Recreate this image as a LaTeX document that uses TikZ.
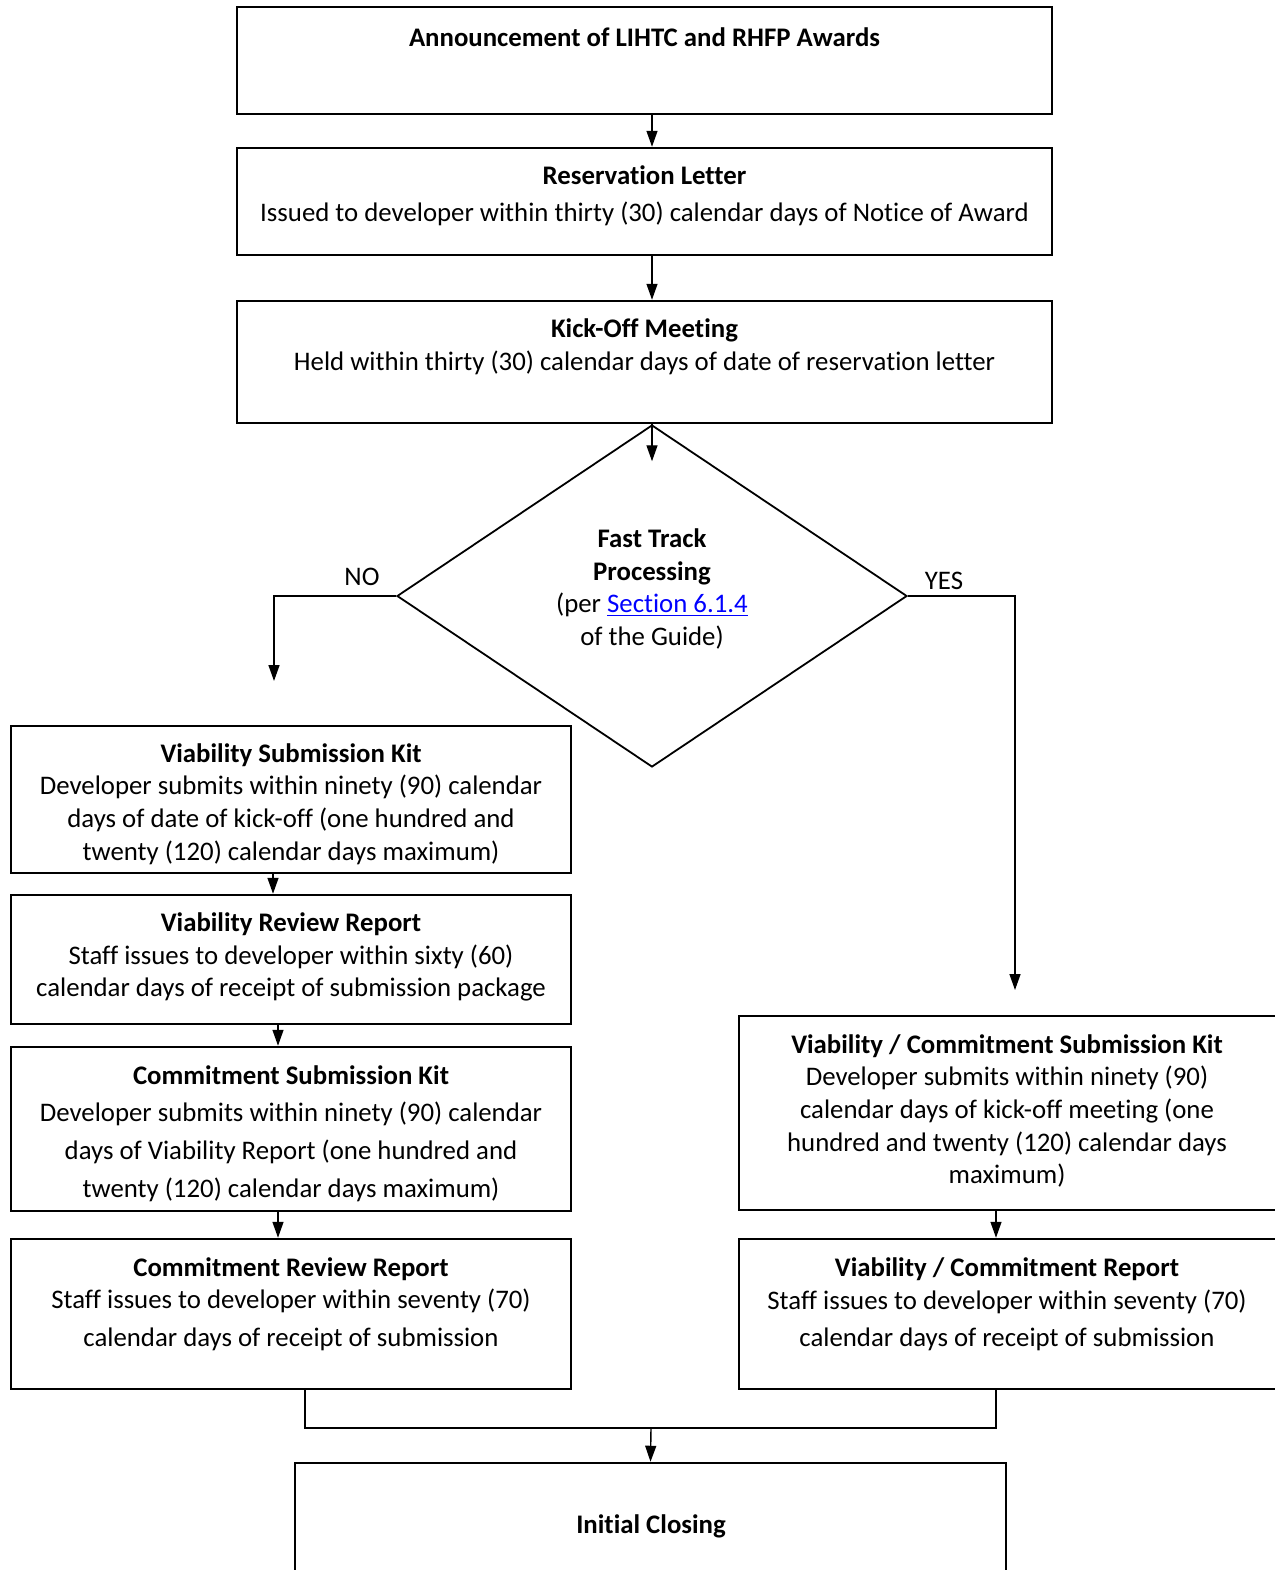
\documentclass[tikz,border=0pt]{standalone}
\usepackage{fontspec}
\setmainfont{Carlito}[Ligatures=NoCommon]
\usepackage{tikz}
\usetikzlibrary{shapes.geometric, arrows.meta}

\tikzset{
  box/.style={draw, line width=1.25pt, inner sep=0pt},
  txt/.style={align=center, inner sep=0pt, font=\fontsize{13.4}{16.3}\selectfont},
  arr/.style={line width=0.7pt, -{Triangle[length=8pt,width=5.5pt]}},
  wire/.style={line width=0.7pt}
}

\begin{document}
\begin{tikzpicture}[x=0.5pt, y=-0.5pt]
\useasboundingbox (0,0) rectangle (1275,1570);
\clip (0,0) rectangle (1275,1570);
\node[box, minimum width=407.5pt, minimum height=53.5pt] (award) at (644.5,60.5) {};
\node[box, minimum width=407.5pt, minimum height=53.5pt] (resv) at (644.5,201.5) {};
\node[box, minimum width=407.5pt, minimum height=61pt] (kick) at (644.5,362) {};
\node[diamond, draw, line width=0.9pt, inner sep=0pt, minimum width=255pt, minimum height=171pt] (dec) at (652,596) {};
\node[box, minimum width=280pt, minimum height=73.5pt] (visub) at (291,799.5) {};
\node[box, minimum width=280pt, minimum height=64.5pt] (virev) at (291,959.5) {};
\node[box, minimum width=280pt, minimum height=82pt] (comsub) at (291,1129) {};
\node[box, minimum width=280pt, minimum height=75pt] (comrev) at (291,1314) {};
\node[box, minimum width=270pt, minimum height=97pt] (vcsub) at (1009,1113) {};
\node[box, minimum width=270pt, minimum height=75pt] (vcrep) at (1009,1314) {};
\node[box, minimum width=355.5pt, minimum height=70pt] (close) at (650.5,1533) {};

\node[txt] (award-t) at (644.5,37) {\textbf{Announcement of LIHTC and RHFP Awards}};
\node[txt] (resv-t) at (644.5,196) {\textbf{Reservation Letter}\\[2.3pt]
  Issued to developer within thirty (30) calendar days of Notice of Award};
\node[txt] (kick-t) at (644.5,347) {\textbf{Kick-Off Meeting}\\
  Held within thirty (30) calendar days of date of reservation letter};
\node[txt] (dec-t) at (652,589) {\textbf{Fast Track}\\\textbf{Processing}\\
  (per \textcolor{blue}{\underline{Section 6.1.4}}\\of the Guide)};
\node[txt] (visub-t) at (291,804) {\textbf{Viability Submission Kit}\\
  Developer submits within ninety (90) calendar\\
  days of date of kick-off (one hundred and\\
  twenty (120) calendar days maximum)};
\node[txt] (virev-t) at (291,957) {\textbf{Viability Review Report}\\
  Staff issues to developer within sixty (60)\\
  calendar days of receipt of submission package};
\node[txt] (comsub-t) at (291,1133.5) {\textbf{Commitment Submission Kit}\\[2.5pt]
  Developer submits within ninety (90) calendar\\[2.5pt]
  days of Viability Report (one hundred and\\[2.5pt]
  twenty (120) calendar days maximum)};
\node[txt] (comrev-t) at (291,1304) {\textbf{Commitment Review Report}\\
  Staff issues to developer within seventy (70)\\[2.5pt]
  calendar days of receipt of submission};
\node[txt] (vcsub-t) at (1007,1111) {\textbf{Viability / Commitment Submission Kit}\\
  Developer submits within ninety (90)\\
  calendar days of kick-off meeting (one\\
  hundred and twenty (120) calendar days\\
  maximum)};
\node[txt] (vcrep-t) at (1007,1304.5) {\textbf{Viability / Commitment Report}\\
  Staff issues to developer within seventy (70)\\[2.3pt]
  calendar days of receipt of submission};
\node[txt] (close-t) at (651,1526) {\textbf{Initial Closing}};
\node[txt] (no-l) at (362,577) {NO};
\node[txt] (yes-l) at (944,581) {YES};

\coordinate (no-end) at (274,681);
\coordinate (yes-end) at (1015,990);
\coordinate (merge) at (651,1428);

\draw[arr] (award.south -| dec.north) -- (resv.north -| dec.north);
\draw[arr] (resv.south -| dec.north) -- (kick.north -| dec.north);
\draw[arr] (kick.south -| dec.north) -- ++(0,37);
\draw[arr] (dec.west) -| (no-end);
\draw[arr] (dec.east) -| (yes-end);
\draw[arr] ([xshift=-9pt]visub.south) -- ([xshift=-9pt]virev.north);
\draw[arr] ([xshift=-6.5pt]virev.south) -- ([xshift=-6.5pt]comsub.north);
\draw[arr] ([xshift=-6.5pt]comsub.south) -- ([xshift=-6.5pt]comrev.north);
\draw[arr] ([xshift=-6.5pt]vcsub.south) -- ([xshift=-6.5pt]vcrep.north);
\draw[wire] ([xshift=7pt]comrev.south) |- (merge) -| ([xshift=-6.5pt]vcrep.south);
\draw[arr] (merge) -- (close.north);
\end{tikzpicture}
\end{document}
